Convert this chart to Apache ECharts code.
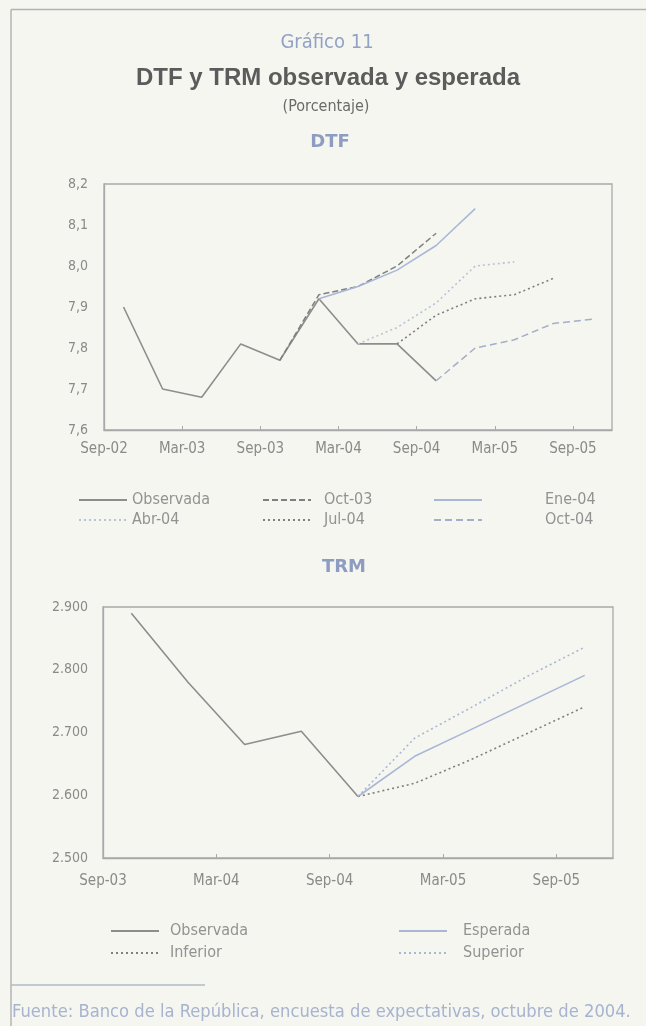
<!DOCTYPE html>
<html><head><meta charset="utf-8">
<script src="https://cdn.jsdelivr.net/npm/echarts@6/dist/echarts.min.js"></script>
<style>html,body{margin:0;padding:0;background:#f5f6f0}#c{width:646px;height:1026px}</style>
</head><body><div id="c"></div>
<script>
// ---- DTF data ----
const dtfStart = '2002-09';
const dtfTickLabels = ['Sep-02','Mar-03','Sep-03','Mar-04','Sep-04','Mar-05','Sep-05'];
const dtfObsDates = ['2002-10','2003-01','2003-04','2003-07','2003-10','2004-01','2004-04','2004-07','2004-10'];
const dtfObservada = [7.90,7.70,7.68,7.81,7.77,7.92,7.81,7.81,7.72];
const dtfOct03Dates = ['2003-10','2004-01','2004-04','2004-07','2004-10'];
const dtfOct03 = [7.77,7.93,7.95,8.00,8.08];
const dtfEne04Dates = ['2004-01','2004-04','2004-07','2004-10','2005-01'];
const dtfEne04 = [7.92,7.95,7.99,8.05,8.14];
const dtfAbr04Dates = ['2004-04','2004-07','2004-10','2005-01','2005-04'];
const dtfAbr04 = [7.81,7.85,7.91,8.00,8.01];
const dtfJul04Dates = ['2004-07','2004-10','2005-01','2005-04','2005-07'];
const dtfJul04 = [7.81,7.88,7.92,7.93,7.97];
const dtfOct04Dates = ['2004-10','2005-01','2005-04','2005-07','2005-10'];
const dtfOct04 = [7.72,7.80,7.82,7.86,7.87];

// ---- TRM data ----
const trmStart = '2003-09';
const trmTickLabels = ['Sep-03','Mar-04','Sep-04','Mar-05','Sep-05'];
const trmObsDates = ['2003-10','2004-01','2004-04','2004-07','2004-10'];
const trmObservada = [2890,2780,2681,2702,2598];
const trmFcDates = ['2004-10','2005-01','2005-04','2005-07','2005-10'];
const trmEsperada = [2598,2662,2705,2748,2791];
const trmInferior = [2598,2619,2657,2699,2741];
const trmSuperior = [2598,2691,2740,2790,2836];

function monthPos(d, start){
  const [y,m] = d.split('-').map(Number), [sy,sm] = start.split('-').map(Number);
  return (y-sy)*12 + (m-sm) + 0.5;   // mid-month
}
function pairs(dates, vals, start){ return dates.map((d,i)=>[monthPos(d,start), vals[i]]); }

const GRAY='#8d8d8d', DGRAY='#7f7f7f', LBLUE='#a9b6d6', LBLUE2='#b8c2da', AXIS='#a9a9a9';
const FAM = '"DejaVu Sans Condensed","DejaVu Sans",sans-serif';
const xFont = {color:'#8a8a8a', fontFamily:FAM, fontSize:15};
const yFont = {color:'#8a8a8a', fontFamily:FAM, fontSize:14};
const legFont = {color:'#929292', fontFamily:FAM, fontSize:16};
const noSym = {color:'rgba(0,0,0,0)', borderColor:'rgba(0,0,0,0)', borderWidth:0};

function ln(name, x, y, color, type, w, start, gi){
  return {name, type:'line', xAxisIndex:gi, yAxisIndex:gi, data:pairs(x,y,start), symbol:'none',
    lineStyle:{color, width:w||1.5, type:type||'solid'}, itemStyle:{color}, silent:true, animation:false};
}

const xAx = (max, labels, gi, margin) => ({type:'value', gridIndex:gi, min:0, max, interval:6,
  axisLine:{show:true, lineStyle:{color:AXIS, width:1.3}},
  axisTick:{show:true, inside:true, length:4, lineStyle:{color:AXIS}},
  axisLabel:Object.assign({margin, showMaxLabel:false, formatter:v=>labels[v/6]||''}, xFont),
  splitLine:{show:false}});

function leg(names, left, top, gap, pad){
  return {data:names, left, top, padding:0, orient:'vertical', itemWidth:48, itemHeight:14, itemGap:gap,
    itemStyle:noSym, textStyle:Object.assign({padding:[0,0,0,pad]},legFont)};
}

const option = {
  backgroundColor:'#f5f6f0',
  animation:false,
  grid:[
    {left:104, right:34, top:184, height:246, show:true, borderColor:AXIS, borderWidth:1.3, backgroundColor:'transparent'},
    {left:103, right:33, top:607, height:251, show:true, borderColor:AXIS, borderWidth:1.3, backgroundColor:'transparent'}
  ],
  xAxis:[xAx(39, dtfTickLabels, 0, 12), xAx(27, trmTickLabels, 1, 16)],
  yAxis:[
    {type:'value', gridIndex:0, min:7.6, max:8.2, interval:0.1, axisLine:{show:true, lineStyle:{color:AXIS,width:1.3}},
     axisTick:{show:false}, splitLine:{show:false},
     axisLabel:Object.assign({margin:16, formatter:v=>v.toFixed(1).replace('.',',')}, yFont)},
    {type:'value', gridIndex:1, min:2500, max:2900, interval:100, axisLine:{show:true, lineStyle:{color:AXIS,width:1.3}},
     axisTick:{show:false}, splitLine:{show:false},
     axisLabel:Object.assign({margin:15, formatter:v=>{const s=String(Math.round(v));return s.slice(0,1)+'.'+s.slice(1);}}, yFont)}
  ],
  legend:[
    leg(['Observada','Abr-04'], 78, 492, 4, 0),
    leg(['Oct-03','Jul-04'], 262, 492, 4, 8),
    leg(['Ene-04','Oct-04'], 433, 492, 4, 58),
    leg(['Observada','Inferior'], 110, 923, 6, 6),
    leg(['Esperada','Superior'], 398, 923, 6, 11)
  ],
  series:[
    ln('Observada', dtfObsDates, dtfObservada, GRAY, 'solid', 1.6, dtfStart, 0),
    ln('Oct-03', dtfOct03Dates, dtfOct03, DGRAY, [6,3], 1.5, dtfStart, 0),
    ln('Ene-04', dtfEne04Dates, dtfEne04, LBLUE, 'solid', 1.5, dtfStart, 0),
    ln('Abr-04', dtfAbr04Dates, dtfAbr04, LBLUE2, [2,3], 1.6, dtfStart, 0),
    ln('Jul-04', dtfJul04Dates, dtfJul04, DGRAY, [2,3], 1.6, dtfStart, 0),
    ln('Oct-04', dtfOct04Dates, dtfOct04, '#a4aec8', [7,4], 1.5, dtfStart, 0),
    ln('Observada', trmObsDates, trmObservada, GRAY, 'solid', 1.6, trmStart, 1),
    ln('Esperada', trmFcDates, trmEsperada, LBLUE, 'solid', 1.6, trmStart, 1),
    ln('Inferior', trmFcDates, trmInferior, DGRAY, [2,3], 1.6, trmStart, 1),
    ln('Superior', trmFcDates, trmSuperior, LBLUE, [2,3], 1.6, trmStart, 1)
  ],
  graphic:[
    {type:'line', shape:{x1:11,y1:9.5,x2:646,y2:9.5}, style:{stroke:'#b3b3b3', lineWidth:1.5}},
    {type:'line', shape:{x1:11,y1:9.5,x2:11,y2:1026}, style:{stroke:'#b3b3b3', lineWidth:1.5}},
    {type:'line', shape:{x1:11,y1:985,x2:205,y2:985}, style:{stroke:'#b3b8c8', lineWidth:1.3}},
    {type:'text', x:327, y:43, style:{text:'Gráfico 11', fill:'#93a2c4', font:'20px "DejaVu Sans Condensed","DejaVu Sans",sans-serif', textAlign:'center', textVerticalAlign:'middle'}},
    {type:'text', x:328, y:78, style:{text:'DTF y TRM observada y esperada', fill:'#5b5b5b', font:'bold 24px "Liberation Sans",Arial,sans-serif', textAlign:'center', textVerticalAlign:'middle'}},
    {type:'text', x:326, y:107, style:{text:'(Porcentaje)', fill:'#6a6a6a', font:'16px "DejaVu Sans Condensed","DejaVu Sans",sans-serif', textAlign:'center', textVerticalAlign:'middle'}},
    {type:'text', x:330, y:142, style:{text:'DTF', fill:'#8d9cc0', font:'bold 18px "DejaVu Sans",sans-serif', textAlign:'center', textVerticalAlign:'middle'}},
    {type:'text', x:344, y:567, style:{text:'TRM', fill:'#8d9cc0', font:'bold 18px "DejaVu Sans",sans-serif', textAlign:'center', textVerticalAlign:'middle'}},
    {type:'text', x:12, y:1012, style:{text:'Fuente: Banco de la República, encuesta de expectativas, octubre de 2004.', fill:'#a7b3cf', font:'18.2px "DejaVu Sans Condensed","DejaVu Sans",sans-serif', textAlign:'left', textVerticalAlign:'middle'}}
  ]
};
const chart = echarts.init(document.getElementById('c'), null, {renderer:'canvas'});
chart.setOption(option);
</script></body></html>
